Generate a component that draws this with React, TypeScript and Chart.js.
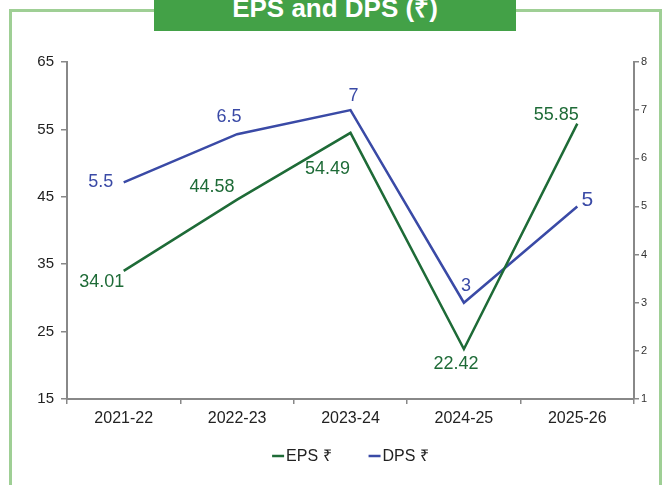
import React, { useEffect, useRef } from "react";
import { Chart, registerables } from "chart.js";

Chart.register(...registerables);

const categories = ["2021-22", "2022-23", "2023-24", "2024-25", "2025-26"];
const epsValues = [34.01, 44.58, 54.49, 22.42, 55.85];
const dpsValues = [5.5, 6.5, 7, 3, 5];
const epsLabels = ["34.01", "44.58", "54.49", "22.42", "55.85"];
const dpsLabels = ["5.5", "6.5", "7", "3", "5"];
const leftMin = 15;
const leftMax = 65;
const leftStep = 10;
const rightMin = 1;
const rightMax = 8;
const rightStep = 1;
const titleText = "EPS and DPS (₹)";
const legendNames = ["EPS ₹", "DPS ₹"];

const EPS_COLOR = "#1e6b37";
const DPS_COLOR = "#3a4aa6";
const FONT = "'Liberation Sans', Arial, sans-serif";

// label offsets (pixels) relative to each point, per dataset
const labelOffsets = [
  [[-22, 11], [-25, -13], [-23, 36], [-8, 15], [-21, -9]],
  [[-23, 0], [-8, -17], [3, -14], [2, -17], [10, -6]],
];
const labelSizes = [
  [18, 18, 18, 18, 18],
  [18, 18, 18, 18, 21],
];

const labelPlugin = {
  id: "pointLabels",
  afterDatasetsDraw(chart: any) {
    const ctx = chart.ctx;
    const texts = [epsLabels, dpsLabels];
    const colors = [EPS_COLOR, DPS_COLOR];
    chart.data.datasets.forEach((_: any, di: number) => {
      const meta = chart.getDatasetMeta(di);
      meta.data.forEach((pt: any, i: number) => {
        const [dx, dy] = labelOffsets[di][i];
        ctx.save();
        ctx.font = `${labelSizes[di][i]}px ${FONT}`;
        ctx.fillStyle = colors[di];
        ctx.textAlign = "center";
        ctx.textBaseline = "middle";
        ctx.fillText(texts[di][i], pt.x + dx, pt.y + dy);
        ctx.restore();
      });
    });
  },
};

const legendPlugin = {
  id: "customLegend",
  afterDraw(chart: any) {
    const ctx = chart.ctx;
    const colors = [EPS_COLOR, DPS_COLOR];
    ctx.save();
    ctx.font = `16px ${FONT}`;
    ctx.textBaseline = "middle";
    ctx.textAlign = "left";
    const lineW = 12;
    const gap = 2;
    const itemGap = 37;
    const widths = legendNames.map((n) => ctx.measureText(n).width);
    const total = widths.reduce((a, w) => a + lineW + gap + w, 0) + itemGap * (legendNames.length - 1);
    const cx = (chart.chartArea.left + chart.chartArea.right) / 2;
    let x = cx - total / 2;
    const y = 456;
    legendNames.forEach((n, i) => {
      ctx.strokeStyle = colors[i];
      ctx.lineWidth = 2.5;
      ctx.beginPath();
      ctx.moveTo(x, y);
      ctx.lineTo(x + lineW, y);
      ctx.stroke();
      ctx.fillStyle = "#222";
      ctx.fillText(n, x + lineW + gap, y + 1);
      x += lineW + gap + widths[i] + itemGap;
    });
    ctx.restore();
  },
};

export default function App() {
  const ref = useRef<HTMLCanvasElement | null>(null);

  useEffect(() => {
    if (!ref.current) return;
    Chart.defaults.font.family = FONT;
    const chart = new Chart(ref.current, {
      type: "line",
      data: {
        labels: categories,
        datasets: [
          {
            label: legendNames[0],
            data: epsValues,
            borderColor: EPS_COLOR,
            backgroundColor: EPS_COLOR,
            borderWidth: 2.5,
            pointRadius: 0,
            tension: 0,
            yAxisID: "y",
          },
          {
            label: legendNames[1],
            data: dpsValues,
            borderColor: DPS_COLOR,
            backgroundColor: DPS_COLOR,
            borderWidth: 2.5,
            pointRadius: 0,
            tension: 0,
            yAxisID: "y1",
          },
        ],
      },
      options: {
        responsive: false,
        animation: false,
        layout: { padding: { top: 62, left: 0, right: 0, bottom: 0 } },
        plugins: {
          legend: { display: false },
          title: { display: false },
          tooltip: { enabled: false },
        },
        scales: {
          x: {
            offset: true,
            grid: {
              display: true,
              offset: true,
              drawOnChartArea: false,
              drawTicks: true,
              tickLength: 5,
              color: "#888",
              lineWidth: 1.5,
            },
            border: { display: true, color: "#888", width: 2 },
            ticks: {
              color: "#222",
              font: { size: 16, family: FONT },
              padding: 5,
              maxRotation: 0,
            },
            afterFit(scale: any) {
              scale.height = 86;
            },
          },
          y: {
            position: "left",
            min: leftMin,
            max: leftMax,
            grid: {
              display: true,
              drawOnChartArea: false,
              drawTicks: true,
              tickLength: 6,
              color: "#888",
              lineWidth: 1.5,
            },
            border: { display: true, color: "#888", width: 2 },
            ticks: {
              stepSize: leftStep,
              color: "#222",
              font: { size: 15, family: FONT },
              padding: 7,
            },
            afterFit(scale: any) {
              scale.width = 67;
            },
          },
          y1: {
            position: "right",
            min: rightMin,
            max: rightMax,
            grid: {
              display: true,
              drawOnChartArea: false,
              drawTicks: true,
              tickLength: 5,
              color: "#888",
              lineWidth: 1.5,
            },
            border: { display: true, color: "#888", width: 2 },
            ticks: {
              stepSize: rightStep,
              color: "#333",
              font: { size: 11, family: FONT },
              padding: 2,
            },
            afterFit(scale: any) {
              scale.width = 31;
            },
          },
        },
      },
      plugins: [labelPlugin, legendPlugin],
    } as any);
    return () => chart.destroy();
  }, []);

  return (
    <div
      style={{
        position: "absolute",
        left: 0,
        top: 0,
        width: 665,
        height: 485,
        overflow: "hidden",
        background: "#fff",
      }}
    >
      <div
        style={{
          position: "absolute",
          left: 9,
          top: 9,
          width: 647,
          height: 520,
          border: "3px solid #9fcf95",
        }}
      />
      <div
        style={{
          position: "absolute",
          left: 154,
          top: 0,
          width: 362,
          height: 31,
          background: "#43a147",
          overflow: "hidden",
        }}
      >
        <div
          style={{
            position: "absolute",
            left: 0,
            top: -5,
            width: "100%",
            textAlign: "center",
            color: "#fff",
            fontFamily: FONT,
            fontWeight: "bold",
            fontSize: 26,
            lineHeight: "26px",
            whiteSpace: "nowrap",
          }}
        >
          {titleText}
        </div>
      </div>
      <canvas
        ref={ref}
        width={665}
        height={485}
        style={{ position: "absolute", left: 0, top: 0, width: 665, height: 485 }}
      />
    </div>
  );
}
